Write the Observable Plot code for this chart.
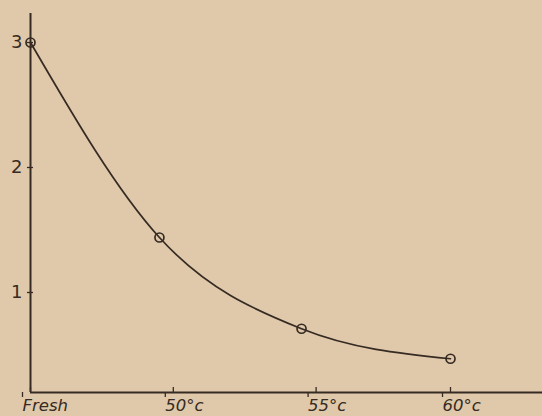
<!DOCTYPE html>
<html>
<head>
<meta charset="utf-8">
<script src="https://cdn.jsdelivr.net/npm/d3@7"></script>
<script src="https://cdn.jsdelivr.net/npm/@observablehq/plot@0.6"></script>
<style>
html, body { margin: 0; padding: 0; background: #e0c8ab; }
</style>
</head>
<body>
<div id="chart"></div>
<script>
const samples = ["Fresh", "50°c", "55°c", "60°c"];
const sampleX = [0, 0.921, 1.936, 3.0];      // position along the treatment axis
const values = [3.0, 1.44, 0.71, 0.47];

// Axis ticks
const xTickPos = [0, 1.02, 2.04, 3.0];
const xTickLabels = ["Fresh", "50°c", "55°c", "60°c"];
const yTicks = [1, 2, 3];

const data = samples.map((s, i) => ({ sample: s, x: sampleX[i], v: values[i] }));
const ink = "#352b22";

const chart = Plot.plot({
  width: 542,
  height: 416,
  marginLeft: 30,
  marginRight: 0,
  marginTop: 13,
  marginBottom: 24,
  style: { background: "#e0c8ab", color: ink, fontFamily: "DejaVu Sans" },
  x: { domain: [0, 512 / 140], axis: null },
  y: { domain: [0.2, 0.2 + 379 / 125], axis: null },
  marks: [
    Plot.axisX({ ticks: xTickPos, tickSize: 5, tickPadding: 2, label: null,
      tickFormat: d => xTickLabels[xTickPos.indexOf(d)],
      textAnchor: "start", dx: -8, fontSize: 16.5, fontStyle: "italic",
      stroke: ink, strokeWidth: 1.3, fill: ink }),
    Plot.axisX({ ticks: xTickPos, tickSize: -5, tickFormat: () => "", label: null, stroke: ink, strokeWidth: 1.3 }),
    Plot.axisY({ ticks: yTicks, tickSize: 3, tickPadding: 5, fontSize: 18, label: null,
      tickFormat: d3.format("d"), stroke: ink, strokeWidth: 1.3, fill: ink }),
    Plot.axisY({ ticks: yTicks, tickSize: -3, tickFormat: () => "", label: null, stroke: ink, strokeWidth: 1.3 }),
    Plot.ruleX([0], { stroke: ink, strokeWidth: 2 }),
    Plot.ruleY([0.2], { stroke: ink, strokeWidth: 2 }),
    Plot.line(data, { x: "x", y: "v", curve: "monotone-x", stroke: ink, strokeWidth: 1.7 }),
    Plot.dot(data, { x: "x", y: "v", r: 4.5, stroke: ink, strokeWidth: 1.7, fill: "none" })
  ]
});
document.getElementById("chart").appendChild(chart);
</script>
</body>
</html>
